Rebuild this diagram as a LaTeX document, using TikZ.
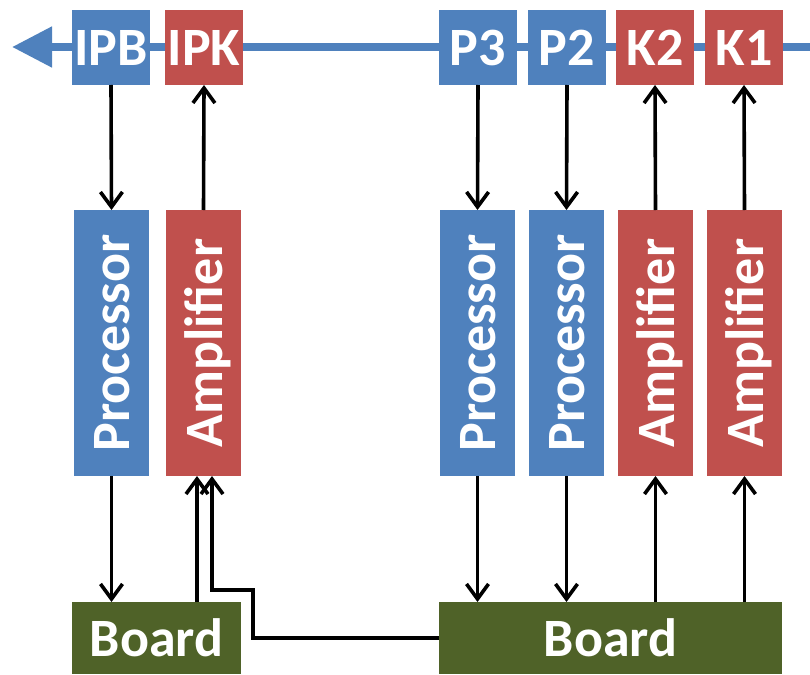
\documentclass[tikz,border=0pt]{standalone}
\usepackage{fontspec}
\setmainfont{Carlito}
\usetikzlibrary{arrows.meta}

\newcommand\vlabel[1]{\rotatebox{90}{\raisebox{0pt}[\height][0pt]{#1}}}

\tikzset{
	box/.style={inner sep=0pt,outer sep=0pt,text=white,font=\bfseries\fontsize{54}{60}\selectfont},
	topbox/.style={box,minimum width=78pt,minimum height=75pt},
	midbox/.style={box,minimum width=75pt,minimum height=266pt},
	boardbox/.style={box,fill=boardgreen,minimum height=72pt},
	sig/.style={line width=3.6pt,-{Straight Barb[length=15pt,width=22pt,line width=3.6pt]}}
}

\begin{document}
\begin{tikzpicture}[x=1pt,y=-1pt]
		\definecolor{procblue}{HTML}{4F81BD}
		\definecolor{ampred}{HTML}{C0504D}
		\definecolor{boardgreen}{HTML}{4F6228}
		\useasboundingbox (0,0) rectangle (810,674);
		% bus
		\coordinate (busstart) at (810,47);
		\coordinate (busend) at (12,47);
		\draw[procblue,line width=8pt,-{Triangle[length=40pt,width=39pt]}] (busstart) -- (busend);
		% top
		\node[topbox,fill=procblue] (ipb) at (111,47.5) {IPB};
		\node[topbox,fill=ampred] (ipk) at (204,47.5) {IPK};
		\node[topbox,fill=procblue] (p3) at (478,47.5) {P3};
		\node[topbox,fill=procblue] (p2) at (567,47.5) {P2};
		\node[topbox,fill=ampred] (k2) at (655,47.5) {K2};
		\node[topbox,fill=ampred] (k1) at (744,47.5) {K1};
		% middle
		\node[midbox,fill=procblue] (proc1) at (111.5,343) {\vlabel{Processor}};
		\node[midbox,fill=ampred] (amp1) at (203.5,343) {\vlabel{Amplifier}};
		\node[midbox,fill=procblue] (proc3) at (477.5,343) {\vlabel{Processor}};
		\node[midbox,fill=procblue] (proc2) at (566.5,343) {\vlabel{Processor}};
		\node[midbox,fill=ampred] (amp2) at (655.5,343) {\vlabel{Amplifier}};
		\node[midbox,fill=ampred] (amp3) at (744.5,343) {\vlabel{Amplifier}};
		% boards
		\node[boardbox,minimum width=169pt] (board1) at (156.5,638) {Board};
		\node[boardbox,minimum width=343pt] (board2) at (610.5,638) {Board};
		% top <-> middle
		\draw[sig] (ipb.south) -- (proc1.north);
		\draw[sig] (amp1.north) -- (ipk.south);
		\draw[sig] (p3.south) -- (proc3.north);
		\draw[sig] (p2.south) -- (proc2.north);
		\draw[sig] (amp2.north) -- (k2.south);
		\draw[sig] (amp3.north) -- (k1.south);
		% middle <-> boards
		\draw[sig] (proc1.south) -- (proc1.south |- board1.north);
		\draw[sig] ([xshift=-6.5pt]amp1.south |- board1.north) -- ([xshift=-6.5pt]amp1.south);
		\coordinate (bend) at (253,590);
		\draw[sig] (board2.west) -| (bend) -| ([xshift=8.5pt]amp1.south);
		\draw[sig] (proc3.south) -- (proc3.south |- board2.north);
		\draw[sig] (proc2.south) -- (proc2.south |- board2.north);
		\draw[sig] (amp2.south |- board2.north) -- (amp2.south);
		\draw[sig] (amp3.south |- board2.north) -- (amp3.south);
		
		\end{tikzpicture}
\end{document}
